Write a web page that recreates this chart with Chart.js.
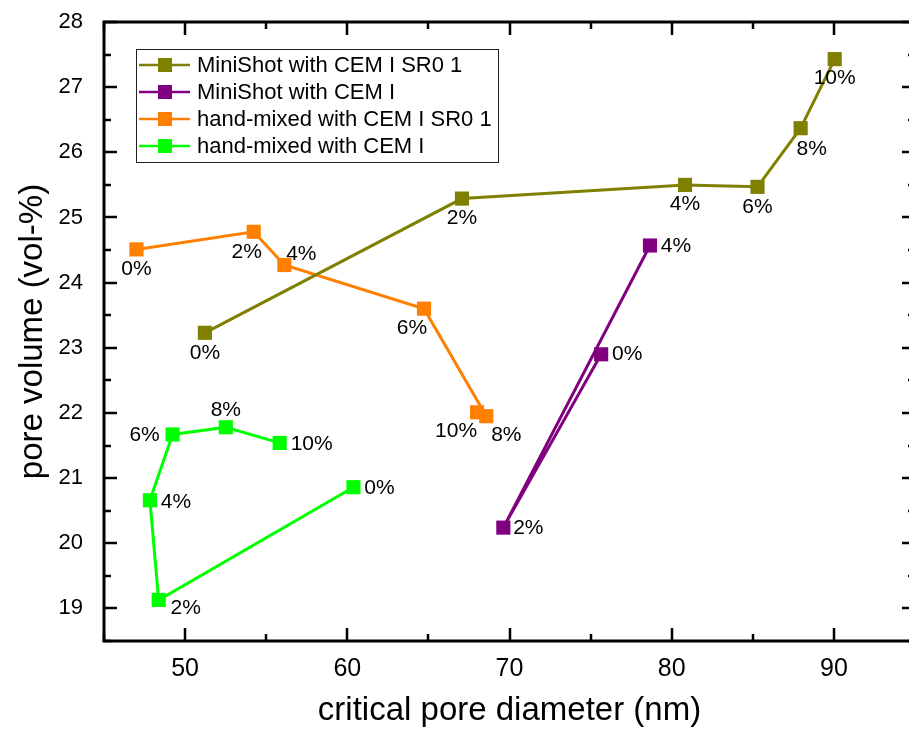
<!DOCTYPE html>
<html>
<head>
<meta charset="utf-8">
<script src="https://cdn.jsdelivr.net/npm/chart.js@4.4.1/dist/chart.umd.min.js"></script>
<style>
  html, body { margin: 0; padding: 0; background: #fff; overflow: hidden; }
  canvas { display: block; }
</style>
</head>
<body>
<canvas id="chart" width="925" height="729"></canvas>
<script>
// values
const xTicks = [50, 60, 70, 80, 90];
const yTicks = [19, 20, 21, 22, 23, 24, 25, 26, 27, 28];

const seriesNames = [
    'MiniShot with CEM I SR0 1',
    'MiniShot with CEM I',
    'hand-mixed with CEM I SR0 1',
    'hand-mixed with CEM I'
];

const miniSrLabels = ['0%', '2%', '4%', '6%', '8%', '10%'];
const miniSrX = [51.22, 67.07, 80.82, 85.29, 87.95, 90.05];
const miniSrY = [23.23, 25.29, 25.50, 25.47, 26.37, 27.43];

const miniLabels = ['0%', '2%', '4%'];
const miniX = [75.65, 69.62, 78.66];
const miniY = [22.90, 20.24, 24.57];

const handSrLabels = ['0%', '2%', '4%', '6%', '8%', '10%'];
const handSrX = [47.00, 54.23, 56.12, 64.73, 68.57, 68.00];
const handSrY = [24.51, 24.78, 24.27, 23.60, 21.95, 22.01];

const handLabels = ['0%', '2%', '4%', '6%', '8%', '10%'];
const handX = [60.38, 48.37, 47.83, 49.23, 52.51, 55.83];
const handY = [20.86, 19.13, 20.66, 21.67, 21.78, 21.54];

// label placement (pixel offsets from the marker)
const labelOffsets = [
    [[0, 20], [0, 20], [0, 19], [0, 20], [11, 21], [0, 19]],
    [[26, 0], [25, 1], [26, 1]],
    [[0, 20], [-7, 20], [17, -11], [-12, 20], [20, 19], [-21, 19]],
    [[26, 1], [27, 8], [26, 2], [-28, 1], [0, -17], [32, 1]]
];

const colors = ['#808000', '#800080', '#ff8000', '#00ff00'];

function pts(xs, ys) {
    return xs.map((x, i) => ({ x: x, y: ys[i] }));
}

const allLabels = [miniSrLabels, miniLabels, handSrLabels, handLabels];

const FONT = '"Liberation Sans", Arial, sans-serif';

const framePlugin = {
    id: 'frame',
    afterDraw(chart) {
        const ctx = chart.ctx;
        const a = chart.chartArea;
        const xs = chart.scales.x;
        const ys = chart.scales.y;
        ctx.save();

        // point labels
        ctx.fillStyle = '#000';
        ctx.font = '21px ' + FONT;
        ctx.textAlign = 'center';
        ctx.textBaseline = 'middle';
        chart.data.datasets.forEach((ds, di) => {
            const meta = chart.getDatasetMeta(di);
            meta.data.forEach((el, i) => {
                const off = labelOffsets[di][i];
                ctx.fillText(allLabels[di][i], el.x + off[0], el.y + off[1]);
            });
        });

        // frame
        ctx.strokeStyle = '#000';
        ctx.lineWidth = 3;
        ctx.strokeRect(a.left, a.top, a.right - a.left, a.bottom - a.top);

        // inward ticks
        ctx.lineWidth = 2.5;
        ctx.beginPath();
        for (let v = xs.min; v <= xs.max + 0.001; v += 5) {
            const px = Math.round(xs.getPixelForValue(v));
            const len = v % 10 === 0 ? 13 : 7;
            ctx.moveTo(px, a.bottom); ctx.lineTo(px, a.bottom - len);
            ctx.moveTo(px, a.top); ctx.lineTo(px, a.top + len);
        }
        for (let v = ys.min; v <= ys.max + 0.001; v += 0.5) {
            const py = Math.round(ys.getPixelForValue(v));
            const len = Number.isInteger(v) ? 13 : 7;
            ctx.moveTo(a.left, py); ctx.lineTo(a.left + len, py);
            ctx.moveTo(a.right, py); ctx.lineTo(a.right - len, py);
        }
        ctx.stroke();

        // tick labels
        ctx.fillStyle = '#000';
        ctx.font = '25px ' + FONT;
        ctx.textAlign = 'center';
        ctx.textBaseline = 'middle';
        xTicks.forEach(v => ctx.fillText(String(v), xs.getPixelForValue(v), a.bottom + 28));
        ctx.font = '22px ' + FONT;
        ctx.textAlign = 'right';
        yTicks.forEach(v => ctx.fillText(String(v), a.left - 21, ys.getPixelForValue(v)));

        // axis titles
        ctx.font = '33px ' + FONT;
        ctx.textAlign = 'center';
        ctx.fillText('critical pore diameter (nm)', (a.left + a.right) / 2, 711);
        ctx.save();
        ctx.translate(33, (a.top + a.bottom) / 2);
        ctx.rotate(-Math.PI / 2);
        ctx.fillText('pore volume (vol-%)', 0, 0);
        ctx.restore();

        // legend
        ctx.lineWidth = 1;
        ctx.strokeStyle = '#222';
        ctx.strokeRect(136.5, 49.5, 362, 113);
        ctx.font = '22px ' + FONT;
        ctx.textAlign = 'left';
        seriesNames.forEach((name, i) => {
            const y = 65 + i * 27;
            ctx.strokeStyle = colors[i];
            ctx.lineWidth = 2.5;
            ctx.beginPath();
            ctx.moveTo(139, y); ctx.lineTo(190, y);
            ctx.stroke();
            ctx.fillStyle = colors[i];
            ctx.fillRect(158, y - 7, 14, 14);
            ctx.fillStyle = '#000';
            ctx.fillText(name, 197, y + 1);
        });

        ctx.restore();
    }
};

const datasets = [
    pts(miniSrX, miniSrY),
    pts(miniX, miniY),
    pts(handSrX, handSrY),
    pts(handX, handY)
].map((data, i) => ({
    label: seriesNames[i],
    data: data,
    showLine: true,
    borderColor: colors[i],
    backgroundColor: colors[i],
    borderWidth: 3,
    pointStyle: 'rect',
    pointRadius: 10,
    pointBorderWidth: 0,
    tension: 0
}));

new Chart(document.getElementById('chart'), {
    type: 'scatter',
    data: { datasets: datasets },
    options: {
        responsive: false,
        devicePixelRatio: 1,
        animation: false,
        layout: { padding: { left: 104, right: 8, top: 22, bottom: 88 } },
        plugins: { legend: { display: false }, tooltip: { enabled: false } },
        scales: {
            x: { type: 'linear', min: 45, max: 95, display: false },
            y: { type: 'linear', min: 18.5, max: 28, display: false }
        }
    },
    plugins: [framePlugin]
});
</script>
</body>
</html>
